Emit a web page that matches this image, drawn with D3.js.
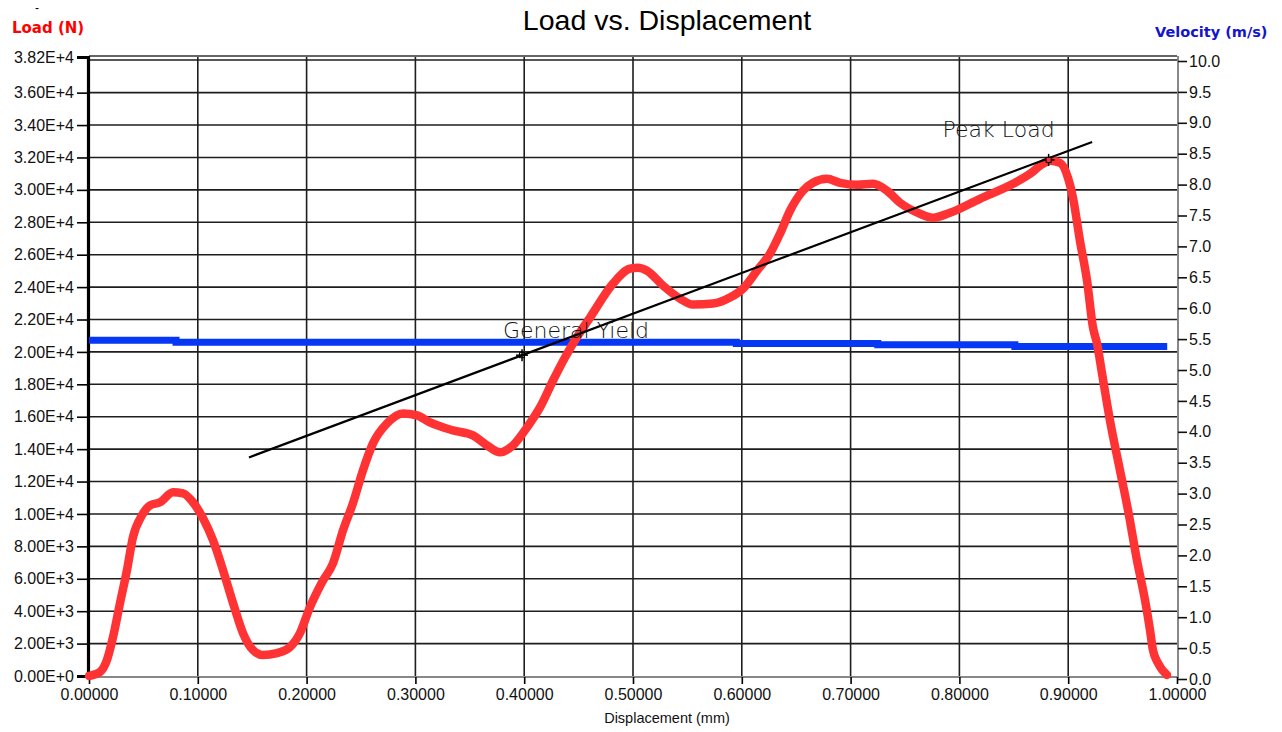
<!DOCTYPE html>
<html>
<head>
<meta charset="utf-8">
<script src="https://cdn.jsdelivr.net/npm/d3@7"></script>
<style>
html,body{margin:0;padding:0;background:#fff;}
svg{display:block;}
</style>
</head>
<body>
<svg id="chart" width="1282" height="732"></svg>
<script>
// ---- Data ----
const displacement = [0,0.0101,0.0165,0.0221,0.0285,0.0349,0.0404,0.0487,0.0561,0.0653,0.0772,0.0864,0.0956,0.1048,0.1140,0.1232,0.1324,0.1415,0.1507,0.1599,0.1728,0.1847,0.1939,0.2031,0.2142,0.2243,0.2335,0.2426,0.2518,0.2610,0.2739,0.2886,0.3015,0.3134,0.3346,0.3529,0.3658,0.3778,0.3897,0.4026,0.4145,0.4265,0.4375,0.4494,0.4605,0.4816,0.4972,0.5046,0.5129,0.5276,0.5432,0.5551,0.5735,0.5891,0.6011,0.6140,0.6259,0.6351,0.6443,0.6562,0.6654,0.6783,0.6903,0.7059,0.7206,0.7335,0.7454,0.7638,0.7757,0.7914,0.8189,0.8493,0.8649,0.8768,0.8833,0.8925,0.8998,0.9044,0.9108,0.9173,0.9228,0.9265,0.9311,0.9384,0.9476,0.9550,0.9632,0.9706,0.9752,0.9779,0.9825,0.9908];
const load = [0,246,986,2403,4498,6531,8564,9920,10536,10721,11337,11275,10721,9735,8379,6531,4498,2649,1602,1294,1417,1787,2649,4251,5792,6962,8995,10659,12692,14356,15588,16204,16081,15650,15157,14849,14233,13801,14233,15342,16574,18237,19655,21010,22119,24214,25138,25199,25015,24091,23290,22920,22982,23352,23906,25015,26062,27295,28712,29944,30437,30683,30437,30314,30375,29944,29205,28527,28281,28589,29451,30375,30991,31607,31792,31669,30745,29513,26863,24399,21503,20517,18669,15773,12692,10228,7147,4683,2834,1602,801,62];

const velDisplacement = [0, 0.080, 0.595, 0.725, 0.851, 0.991];
const velocity = [5.48, 5.45, 5.43, 5.41, 5.38, 5.38];

const fitDisplacement = [0.147, 0.922];
const fitLoad = [13490, 32960];

const markerNames = ["General Yield", "Peak Load"];
const markerDisplacement = [0.398, 0.882];
const markerLoad = [19800, 31850];

const loadTicks = [0,2000,4000,6000,8000,10000,12000,14000,16000,18000,20000,22000,24000,26000,28000,30000,32000,34000,36000,38200];
const dispTicks = [0,0.1,0.2,0.3,0.4,0.5,0.6,0.7,0.8,0.9,1.0];
const velTicks = d3.range(0, 10.01, 0.5);

// ---- Layout ----
const svg = d3.select("#chart");
const X0 = 89, X1 = 1177, Y0 = 676, Y1 = 57;
const x = d3.scaleLinear().domain([0, 1]).range([X0, X1]);
const y = d3.scaleLinear().domain([0, 38200]).range([Y0, Y1]);
const yv = d3.scaleLinear().domain([0, 10]).range([679, 61]);

const fmtLoad = v => d3.format(".2e")(v).replace("e", "E");

// Grid
const grid = svg.append("g");
grid.selectAll("line.h").data(loadTicks.filter(d => d > 0)).join("line")
  .attr("x1", X0).attr("x2", X1)
  .attr("y1", d => d === 38200 ? y(d) + 3 : y(d)).attr("y2", d => d === 38200 ? y(d) + 3 : y(d))
  .attr("stroke", "#1e1e1e").attr("stroke-width", 1.6);
grid.selectAll("line.v").data(dispTicks.filter(d => d > 0 && d < 1)).join("line")
  .attr("x1", d => x(d)).attr("x2", d => x(d))
  .attr("y1", Y1).attr("y2", Y0)
  .attr("stroke", "#1e1e1e").attr("stroke-width", 1.6);

// Frame
svg.append("line").attr("x1", X0).attr("x2", X1).attr("y1", Y1 - 1).attr("y2", Y1 - 1)
  .attr("stroke", "#333").attr("stroke-width", 1.5);
svg.append("line").attr("x1", X1 + 1).attr("x2", X1 + 1).attr("y1", Y1 - 1).attr("y2", Y0 + 1)
  .attr("stroke", "#888").attr("stroke-width", 2);
svg.append("line").attr("x1", X0).attr("x2", X1 + 2).attr("y1", Y0 + 1).attr("y2", Y0 + 1)
  .attr("stroke", "#888").attr("stroke-width", 2);

// Left axis
const yAxis = d3.axisLeft(y).tickValues(loadTicks).tickFormat(fmtLoad).tickSize(11).tickPadding(3);
const gy = svg.append("g").attr("transform", `translate(${X0 - 1},0)`).call(yAxis);
gy.select(".domain").attr("stroke", "#000").attr("stroke-width", 3.2);
gy.selectAll(".tick line").attr("stroke", "#000").attr("stroke-width", 1.6);
gy.selectAll(".tick text").attr("font-family", "'Liberation Sans', Arial, sans-serif")
  .attr("font-size", 16).attr("fill", "#111");

// Bottom axis
const xAxis = d3.axisBottom(x).tickValues(dispTicks).tickFormat(d3.format(".5f")).tickSize(7).tickPadding(5);
const gx = svg.append("g").attr("transform", `translate(0,${Y0 + 1})`).call(xAxis);
gx.select(".domain").remove();
gx.selectAll(".tick line").attr("stroke", "#000").attr("stroke-width", 1.6);
gx.selectAll(".tick text").attr("font-family", "'Liberation Sans', Arial, sans-serif")
  .attr("font-size", 16).attr("fill", "#111");

// Right axis
const vAxis = d3.axisRight(yv).tickValues(velTicks).tickFormat(d3.format(".1f")).tickSize(9).tickPadding(2);
const gv = svg.append("g").attr("transform", `translate(${X1 + 1},0)`).call(vAxis);
gv.select(".domain").remove();
gv.selectAll(".tick line").attr("stroke", "#111").attr("stroke-width", 1.6);
gv.selectAll(".tick text").attr("font-family", "'Liberation Sans', Arial, sans-serif")
  .attr("font-size", 16).attr("fill", "#111");

// Velocity line (blue)
const velData = velDisplacement.map((d, i) => [d, velocity[i]]);
svg.append("path").datum(velData)
  .attr("fill", "none").attr("stroke", "#0637f5").attr("stroke-width", 7)
  .attr("d", d3.line().x(d => x(d[0])).y(d => yv(d[1])).curve(d3.curveStepAfter));

// Load curve (red)
const loadData = displacement.map((d, i) => [d, load[i]]);
svg.append("path").datum(loadData)
  .attr("fill", "none").attr("stroke", "#ff3333").attr("stroke-width", 8.5)
  .attr("stroke-linejoin", "round").attr("stroke-linecap", "round")
  .attr("d", d3.line().x(d => x(d[0])).y(d => y(d[1])).curve(d3.curveMonotoneX));

// Fit line (black)
svg.append("line")
  .attr("x1", x(fitDisplacement[0])).attr("y1", y(fitLoad[0]))
  .attr("x2", x(fitDisplacement[1])).attr("y2", y(fitLoad[1]))
  .attr("stroke", "#000").attr("stroke-width", 2.2);

// Markers
const mk = svg.append("g");
markerNames.forEach((name, i) => {
  const cx = x(markerDisplacement[i]), cy = y(markerLoad[i]);
  const g = mk.append("g").attr("transform", `translate(${cx},${cy})`);
  g.append("line").attr("x1", -6).attr("x2", 6).attr("y1", 0).attr("y2", 0).attr("stroke", "#000").attr("stroke-width", 1.5);
  g.append("line").attr("x1", 0).attr("x2", 0).attr("y1", -6).attr("y2", 6).attr("stroke", "#000").attr("stroke-width", 1.5);
  g.append("rect").attr("x", -2.5).attr("y", -2.5).attr("width", 5).attr("height", 5)
    .attr("fill", i === 1 ? "#ff3333" : "none").attr("stroke", "#000").attr("stroke-width", 1);
  svg.append("text")
    .attr("x", cx + (i === 0 ? 54 : -50)).attr("y", cy + (i === 0 ? -17 : -23))
    .attr("text-anchor", "middle")
    .attr("font-family", "'DejaVu Sans', sans-serif").attr("font-weight", 200)
    .attr("font-size", 22).attr("fill", "#111")
    .text(name);
});

// Titles
svg.append("text").attr("x", 667).attr("y", 30).attr("text-anchor", "middle")
  .attr("font-family", "'Liberation Sans', Arial, sans-serif").attr("font-size", 28.5).attr("fill", "#000")
  .text("Load vs. Displacement");
svg.append("text").attr("x", 12).attr("y", 33)
  .attr("font-family", "'DejaVu Sans', sans-serif").attr("font-weight", "bold").attr("font-size", 15).attr("fill", "#ff0000")
  .text("Load (N)");
svg.append("text").attr("x", 1155).attr("y", 37)
  .attr("font-family", "'DejaVu Sans', sans-serif").attr("font-weight", "bold").attr("font-size", 14.5).attr("fill", "#1414cc")
  .text("Velocity (m/s)");
svg.append("text").attr("x", 667).attr("y", 723).attr("text-anchor", "middle")
  .attr("font-family", "'Liberation Sans', Arial, sans-serif").attr("font-size", 14.5).attr("fill", "#111")
  .text("Displacement (mm)");
svg.append("text").attr("x", 35).attr("y", 12)
  .attr("font-family", "'Liberation Sans', Arial, sans-serif").attr("font-size", 12).attr("fill", "#000")
  .text("-");
</script>
</body>
</html>
